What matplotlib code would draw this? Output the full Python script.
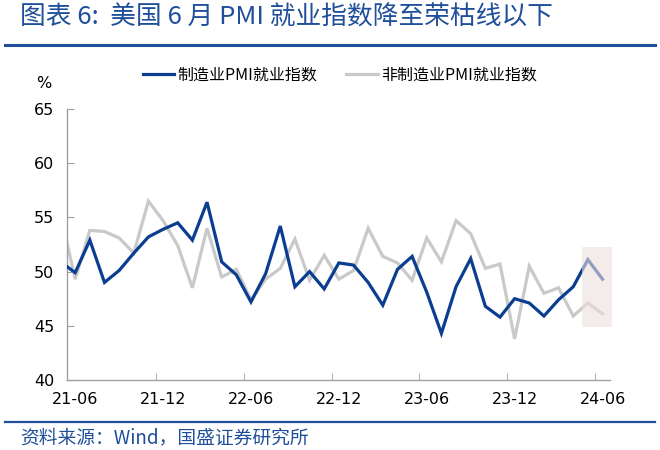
import matplotlib
matplotlib.use("Agg")
import matplotlib.pyplot as plt
from matplotlib.patches import Rectangle
from matplotlib.lines import Line2D

plt.rcParams['font.family'] = ['Noto Sans CJK SC', 'DejaVu Sans']

# months from 2021-05 to 2024-06 (2021-06 is index 0)
months = ["21-05", "21-06", "21-07", "21-08", "21-09", "21-10", "21-11", "21-12",
          "22-01", "22-02", "22-03", "22-04", "22-05", "22-06", "22-07", "22-08",
          "22-09", "22-10", "22-11", "22-12", "23-01", "23-02", "23-03", "23-04",
          "23-05", "23-06", "23-07", "23-08", "23-09", "23-10", "23-11", "23-12",
          "24-01", "24-02", "24-03", "24-04", "24-05", "24-06"]
manu = [50.9, 49.9, 52.9, 49.0, 50.1, 51.7, 53.2, 53.9, 54.5, 52.9, 56.4, 50.9,
        49.7, 47.2, 49.8, 54.2, 48.6, 50.0, 48.4, 50.8, 50.6, 49.0, 46.9, 50.2,
        51.4, 48.1, 44.3, 48.6, 51.2, 46.8, 45.8, 47.5, 47.1, 45.9, 47.4, 48.6,
        51.1, 49.3]
nonmanu = [55.3, 49.3, 53.8, 53.7, 53.1, 51.7, 56.5, 54.7, 52.4, 48.5, 54.0, 49.5,
           50.2, 47.4, 49.3, 50.3, 53.0, 49.2, 51.5, 49.3, 50.1, 54.0, 51.4, 50.8,
           49.2, 53.1, 50.9, 54.7, 53.5, 50.3, 50.7, 43.8, 50.5, 48.0, 48.5, 45.9,
           47.1, 46.1]
tick_labels = ["21-06", "21-12", "22-06", "22-12", "23-06", "23-12", "24-06"]

blue = "#0B3E91"
gray = "#C9C9C9"
title_blue = "#1F4E9A"

x = list(range(-1, len(months) - 1))

fig = plt.figure(figsize=(6.6, 4.5), dpi=100)
ax = fig.add_axes([0.1015, 0.1556, 0.8225, 0.6022])

ax.plot(x, nonmanu, color=gray, lw=2.3, zorder=2, solid_joinstyle="miter")
ax.plot(x, manu, color=blue, lw=2.3, zorder=3, solid_joinstyle="miter")

# highlight for latest two months
ax.add_patch(Rectangle((34.63, 44.9), 2.04, 7.4, facecolor="#EEDEDE", alpha=0.6,
                       edgecolor="none", zorder=4, clip_on=False))

ax.set_xlim(-0.56, 36.5)
ax.set_ylim(40, 65)
ax.set_yticks([40, 45, 50, 55, 60, 65])
ax.set_xticks([0, 6, 12, 18, 24, 30, 36])
ax.set_xticklabels(tick_labels, family="DejaVu Sans", fontsize=11.5)
ax.set_xticks([5.5, 11.5, 17.5, 23.5, 29.5, 35.5], minor=True)
for lbl in ax.get_yticklabels():
    lbl.set_family("DejaVu Sans")
    lbl.set_fontsize(11.5)
ax.tick_params(axis="x", which="major", length=0, pad=9)
ax.tick_params(axis="x", which="minor", length=5, direction="in", color="#A0A0A0")
ax.tick_params(axis="y", length=5, direction="in", color="#A0A0A0", pad=9)

for s in ["top", "right"]:
    ax.spines[s].set_visible(False)
for s in ["left", "bottom"]:
    ax.spines[s].set_color("#A0A0A0")
    ax.spines[s].set_linewidth(1)

fig.text(0.067, 0.815, "%", fontsize=11.5, family="DejaVu Sans", ha="center", va="center")

handles = [Line2D([], [], color=blue, lw=2.3), Line2D([], [], color=gray, lw=2.3)]
fig.legend(handles, ["制造业PMI就业指数", "非制造业PMI就业指数"], loc="center",
           bbox_to_anchor=(0.515, 0.834), ncol=2, frameon=False, fontsize=11.5,
           handlelength=2.0, columnspacing=1.8, handletextpad=0.2)

fig.text(0.03, 0.962, "图表 6:  美国 6 月 PMI 就业指数降至荣枯线以下", fontsize=18.5,
         color=title_blue, ha="left", va="center", style="italic")
fig.add_artist(Line2D([0.008, 0.992], [0.9, 0.9], color=title_blue, lw=2.2))
fig.add_artist(Line2D([0.008, 0.992], [0.062, 0.062], color=title_blue, lw=1.6))
fig.text(0.03, 0.028, "资料来源：Wind，国盛证券研究所", fontsize=13.5,
         color=title_blue, ha="left", va="center", style="italic")

fig.savefig("out.png", dpi=100)
